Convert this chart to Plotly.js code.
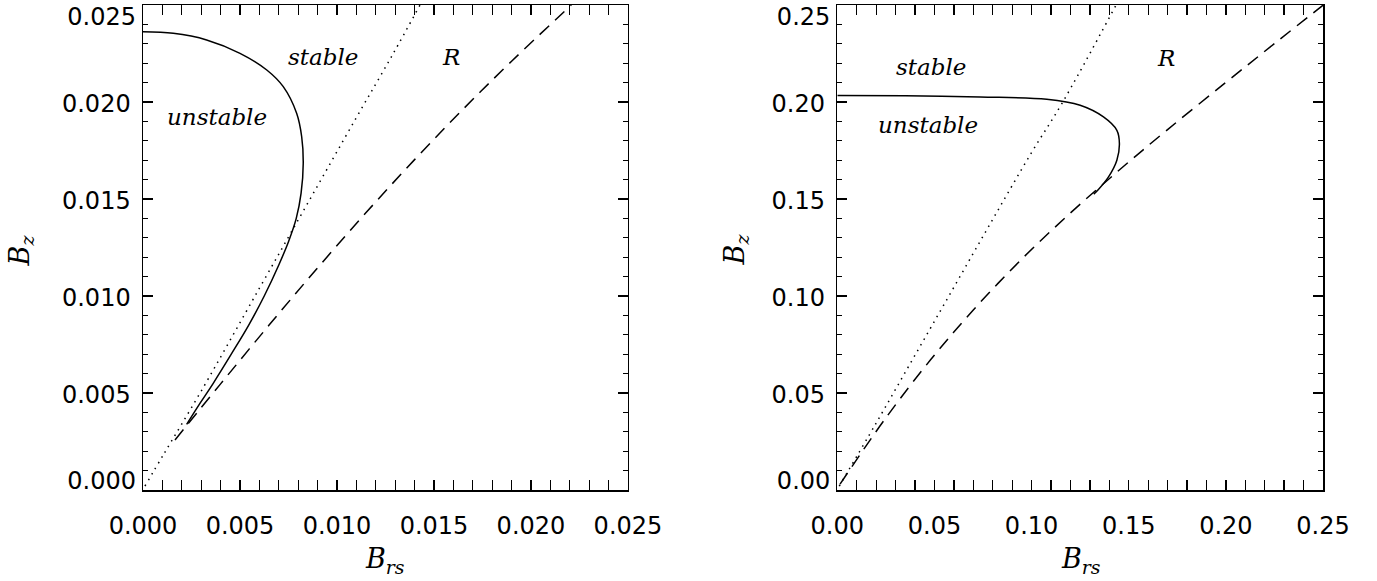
<!DOCTYPE html>
<html>
<head>
<meta charset="utf-8">
<script src="https://cdn.plot.ly/plotly-3.0.1.min.js"></script>
<style>html,body{margin:0;padding:0;background:#fff;}</style>
</head>
<body>
<div id="chart" style="width:1377px;height:581px;"></div>
<script>
// ---- Left panel data ----
const leftSolidX  = [0.0000, 0.00156, 0.00328, 0.00500, 0.00638, 0.00723, 0.00792, 0.00818, 0.00826, 0.00815, 0.00790, 0.00750, 0.00700, 0.00625, 0.00545, 0.00455, 0.00362, 0.00296, 0.00225];
const leftSolidY  = [0.02362, 0.02354, 0.02320, 0.02251, 0.02165, 0.02079, 0.01942, 0.01821, 0.01684, 0.01530, 0.01400, 0.01280, 0.01160, 0.01000, 0.00850, 0.00700, 0.00550, 0.00450, 0.00338];
const leftDotX    = [0.0001, 0.0011, 0.0030, 0.0060, 0.0085, 0.0110, 0.0129, 0.01428];
const leftDotY    = [0.0002, 0.0019, 0.0051, 0.0104, 0.0148, 0.0192, 0.0225, 0.0250];
const leftDashX   = [0.00165, 0.00400, 0.00650, 0.00900, 0.01150, 0.01400, 0.01650, 0.01900, 0.02208];
const leftDashY   = [0.00258, 0.00547, 0.00850, 0.01145, 0.01430, 0.01703, 0.01963, 0.02210, 0.02500];

// ---- Right panel data ----
const rightSolidX = [0.0000, 0.0350, 0.0735, 0.1078, 0.1250, 0.1370, 0.1439, 0.1452, 0.1439, 0.1396, 0.1344, 0.1320];
const rightSolidY = [0.2034, 0.2032, 0.2026, 0.2014, 0.1983, 0.1923, 0.1854, 0.1786, 0.1700, 0.1614, 0.1549, 0.1525];
const rightDotX   = [0.0010, 0.0200, 0.0400, 0.0600, 0.0800, 0.1000, 0.1156, 0.1435];
const rightDotY   = [0.0020, 0.0345, 0.0695, 0.1045, 0.1395, 0.1740, 0.1992, 0.2500];
const rightDashX  = [0.0014, 0.0250, 0.0480, 0.0700, 0.0950, 0.1200, 0.1450, 0.1700, 0.2000, 0.2250, 0.2500];
const rightDashY  = [0.0030, 0.0372, 0.0671, 0.0928, 0.1191, 0.1428, 0.1648, 0.1858, 0.2101, 0.2301, 0.2499];

// ---- Tick values ----
const leftTicks     = [0.000, 0.005, 0.010, 0.015, 0.020, 0.025];
const leftMidTicks  = [0.005, 0.010, 0.015, 0.020];
const leftLowTick   = [0.000];
const leftTopTick   = [0.025];
const rightTicks    = [0.00, 0.05, 0.10, 0.15, 0.20, 0.25];
const rightMidTicks = [0.05, 0.10, 0.15, 0.20];
const rightLowTick  = [0.00];
const rightTopTick  = [0.25];

const lineW = 1.5;
function tr(x, y, dash, xa, ya) {
  return {x: x, y: y, xaxis: xa, yaxis: ya, type: 'scatter', mode: 'lines',
          line: {color: '#000', width: lineW, dash: dash, shape: 'spline', smoothing: 1.0},
          hoverinfo: 'skip', showlegend: false};
}
function empty(xa, ya) {
  return {x: [], y: [], xaxis: xa, yaxis: ya, type: 'scatter', mode: 'lines', hoverinfo: 'skip', showlegend: false};
}
const data = [
  tr(leftSolidX, leftSolidY, 'solid', 'x', 'y'),
  tr(leftDotX, leftDotY, '1.5px,5px', 'x', 'y'),
  tr(leftDashX, leftDashY, '13px,8px', 'x', 'y'),
  tr(rightSolidX, rightSolidY, 'solid', 'x2', 'y2'),
  tr(rightDotX, rightDotY, '1.5px,5px', 'x2', 'y2'),
  tr(rightDashX, rightDashY, '13px,8px', 'x2', 'y2'),
  empty('x', 'y3'), empty('x', 'y4'), empty('x2', 'y5'), empty('x2', 'y6')
];

const tickFont = {family: 'DejaVu Sans, sans-serif', size: 24, color: '#000'};
function ax(domain, range, ticks, fmt, minorDtick, anchor, standoff) {
  return {
    domain: domain, range: range, anchor: anchor,
    tickmode: 'array', tickvals: ticks, tickformat: fmt,
    ticks: 'inside', ticklen: 10, tickwidth: 1.3, tickcolor: '#000',
    minor: {dtick: minorDtick, tick0: 0, ticks: 'inside', ticklen: 5, tickwidth: 1.3, tickcolor: '#000', showgrid: false},
    showline: true, linecolor: '#000', linewidth: 1.5, mirror: 'allticks',
    showgrid: false, zeroline: false, tickfont: tickFont,
    ticklabelstandoff: standoff, ticklabeloverflow: 'allow', fixedrange: true
  };
}
function yMain(range, midTicks, fmt, minorDtick, anchor) {
  const a = ax([0, 1], range, midTicks, fmt, minorDtick, anchor, 6);
  a.ticklabelshift = 2;
  return a;
}
// end labels of the y axes sit a little inside the frame, drawn on overlay axes
function yEnd(range, vals, fmt, anchor, overlay, shift) {
  return {
    range: range, anchor: anchor, overlaying: overlay, side: 'left',
    tickmode: 'array', tickvals: vals, tickformat: fmt,
    ticks: '', showline: false, showgrid: false, zeroline: false,
    tickfont: tickFont, ticklabelstandoff: 6, ticklabelshift: shift,
    ticklabeloverflow: 'allow', fixedrange: true
  };
}

const annFont = {family: 'DejaVu Serif, serif', size: 23, color: '#000'};
const titleFont = {family: 'DejaVu Serif, serif', size: 27, color: '#000'};
function lab(text, x, y, xref, yref) {
  return {text: '<i>' + text + '</i>', x: x, y: y, xref: xref, yref: yref, showarrow: false,
          font: annFont, xanchor: 'center', yanchor: 'middle'};
}
const annotations = [
  lab('stable', 0.00928, 0.02232, 'x', 'y'),
  lab('unstable', 0.00384, 0.01924, 'x', 'y'),
  lab('R', 0.01588, 0.02232, 'x', 'y'),
  lab('stable', 0.0483, 0.2180, 'x2', 'y2'),
  lab('unstable', 0.0467, 0.1880, 'x2', 'y2'),
  lab('R', 0.1693, 0.2225, 'x2', 'y2'),
  {text: '<i>B</i><sub><i>z</i></sub>', x: -0.103, y: 0.495, xref: 'paper', yref: 'paper', textangle: -90,
   showarrow: false, font: titleFont, xanchor: 'center', yanchor: 'middle'},
  {text: '<i>B</i><sub><i>z</i></sub>', x: 0.503, y: 0.495, xref: 'paper', yref: 'paper', textangle: -90,
   showarrow: false, font: titleFont, xanchor: 'center', yanchor: 'middle'},
  {text: '<i>B</i><sub><i>rs</i></sub>', x: 0.2055, y: -0.145, xref: 'paper', yref: 'paper',
   showarrow: false, font: titleFont, xanchor: 'center', yanchor: 'middle'},
  {text: '<i>B</i><sub><i>rs</i></sub>', x: 0.795, y: -0.145, xref: 'paper', yref: 'paper',
   showarrow: false, font: titleFont, xanchor: 'center', yanchor: 'middle'}
];

const layout = {
  width: 1377, height: 581,
  margin: {l: 143, r: 54, t: 5, b: 91, pad: 0},
  paper_bgcolor: '#fff', plot_bgcolor: '#fff',
  showlegend: false,
  xaxis:  ax([0, 0.411], [0, 0.025], leftTicks, '.3f', 0.001, 'y', 14),
  yaxis:  yMain([0, 0.025], leftMidTicks, '.3f', 0.001, 'x'),
  yaxis3: yEnd([0, 0.025], leftLowTick, '.3f', 'x', 'y', -9),
  yaxis4: yEnd([0, 0.025], leftTopTick, '.3f', 'x', 'y', 12),
  xaxis2: ax([0.5884, 1], [0, 0.25], rightTicks, '.2f', 0.01, 'y2', 14),
  yaxis2: yMain([0, 0.25], rightMidTicks, '.2f', 0.01, 'x2'),
  yaxis5: yEnd([0, 0.25], rightLowTick, '.2f', 'x2', 'y2', -9),
  yaxis6: yEnd([0, 0.25], rightTopTick, '.2f', 'x2', 'y2', 12),
  annotations: annotations
};

Plotly.newPlot('chart', data, layout, {staticPlot: true, displayModeBar: false});
</script>
</body>
</html>
